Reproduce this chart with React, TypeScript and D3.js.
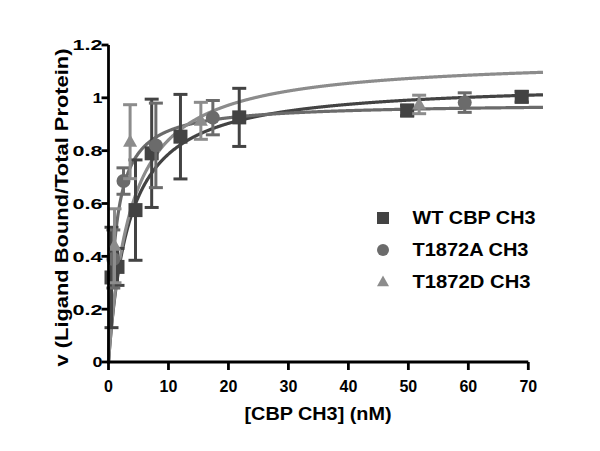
import * as d3 from "d3";

type Point = { x: number; y: number; err: number };
type Series = {
  name: string;
  shape: "square" | "circle" | "triangle";
  color: string;
  bmax: number;
  kd: number;
  points: Point[];
};

// readings: concentration (nM), v, error
const WT_X = [0.5, 1.5, 4.5, 7.2, 12, 21.8, 49.8, 68.9];
const WT_Y = [0.32, 0.36, 0.575, 0.79, 0.853, 0.926, 0.952, 1.004];
const WT_ERR = [0.19, 0.07, 0.19, 0.205, 0.16, 0.11, 0.02, 0.02];

const A_X = [0.8, 2.5, 7.9, 17.4, 59.4];
const A_Y = [0.39, 0.685, 0.82, 0.925, 0.982];
const A_ERR = [0.11, 0.05, 0.16, 0.065, 0.037];

const D_X = [1.0, 3.6, 15.4, 51.8];
const D_Y = [0.44, 0.834, 0.913, 0.975];
const D_ERR = [0.14, 0.14, 0.07, 0.035];

// one-site binding fits: v = Bmax * x / (Kd + x)
const FIT_BMAX = [1.06, 0.98, 1.153];
const FIT_KD = [3.47, 1.2, 3.72];

const X_TICKS = [0, 10, 20, 30, 40, 50, 60, 70];
const Y_TICKS = [0, 0.2, 0.4, 0.6, 0.8, 1, 1.2];

const zip = (xs: number[], ys: number[], es: number[]): Point[] =>
  xs.map((x, i) => ({ x, y: ys[i], err: es[i] }));

const SERIES: Series[] = [
  { name: "WT CBP CH3", shape: "square", color: "#434343", bmax: FIT_BMAX[0], kd: FIT_KD[0], points: zip(WT_X, WT_Y, WT_ERR) },
  { name: "T1872A CH3", shape: "circle", color: "#6b6b6b", bmax: FIT_BMAX[1], kd: FIT_KD[1], points: zip(A_X, A_Y, A_ERR) },
  { name: "T1872D CH3", shape: "triangle", color: "#8c8c8c", bmax: FIT_BMAX[2], kd: FIT_KD[2], points: zip(D_X, D_Y, D_ERR) },
];
const LEGEND_WIDTHS = [123, 116, 118];

const WIDTH = 600;
const HEIGHT = 451;
const FONT = "'Liberation Sans', Arial, sans-serif";

const xScale = d3.scaleLinear().domain([0, 70]).range([108.5, 528.3]);
const yScale = d3.scaleLinear().domain([0, 1.2]).range([362, 45]);

const marker = (shape: Series["shape"], cx: number, cy: number, size: number, color: string, key?: string) => {
  if (shape === "square") {
    return <rect key={key} x={cx - size / 2} y={cy - size / 2} width={size} height={size} fill={color} />;
  }
  if (shape === "circle") {
    return <circle key={key} cx={cx} cy={cy} r={size / 2} fill={color} />;
  }
  const h = size * 0.9;
  return (
    <path
      key={key}
      d={`M${cx},${cy - h * 0.6}L${cx + size / 2},${cy + h * 0.4}L${cx - size / 2},${cy + h * 0.4}Z`}
      fill={color}
    />
  );
};

const curvePath = (s: Series) => {
  const xs = d3.range(0, 72.5, 0.05);
  const line = d3
    .line<number>()
    .x((x) => xScale(x))
    .y((x) => yScale((s.bmax * x) / (s.kd + x)));
  return line(xs) ?? "";
};

const App = () => {
  const [y0, y1] = yScale.range();
  const [x0, x1] = xScale.range();
  const legendX = 383;
  const legendY = [218, 250, 282];

  return (
    <svg
      width={WIDTH}
      height={HEIGHT}
      style={{ position: "absolute", left: 0, top: 0, background: "white" }}
      fontFamily={FONT}
    >
      <rect width={WIDTH} height={HEIGHT} fill="white" />

      {/* fitted curves */}
      {SERIES.map((s) => (
        <path key={s.name} d={curvePath(s)} fill="none" stroke={s.color} strokeWidth={3.2} />
      ))}

      {/* error bars and points */}
      {SERIES.map((s) => (
        <g key={s.name}>
          {s.points.map((p, i) => {
            const cx = xScale(p.x);
            const top = yScale(p.y + p.err);
            const bot = yScale(Math.max(0, p.y - p.err));
            return (
              <g key={i} stroke={s.color} strokeWidth={3}>
                <line x1={cx} x2={cx} y1={top} y2={bot} />
                <line x1={cx - 7} x2={cx + 7} y1={top} y2={top} />
                <line x1={cx - 7} x2={cx + 7} y1={bot} y2={bot} />
              </g>
            );
          })}
          {s.points.map((p, i) => marker(s.shape, xScale(p.x), yScale(p.y), 14, s.color, `m${i}`))}
        </g>
      ))}

      {/* axes */}
      <g stroke="black" strokeWidth={2.8}>
        <line x1={x0 - 1.4} x2={x1} y1={y0} y2={y0} />
        <line x1={x0} x2={x0} y1={y0 + 1.4} y2={y1} />
        {X_TICKS.map((t) => (
          <line key={t} x1={xScale(t)} x2={xScale(t)} y1={y0} y2={y0 + 8} />
        ))}
        {Y_TICKS.map((t) => (
          <line key={t} x1={x0 - 7} x2={x0} y1={yScale(t)} y2={yScale(t)} />
        ))}
      </g>
      <g fontSize={16} fontWeight="bold" fill="black">
        {X_TICKS.map((t) => (
          <text key={t} x={xScale(t)} y={y0 + 30} textAnchor="middle">
            {t}
          </text>
        ))}
      </g>
      <g fontSize={15} fontWeight="bold" fill="black">
        {Y_TICKS.map((t) => {
          const label = String(t);
          const w = label.length === 1 ? 10 : 30;
          return (
            <text
              key={t}
              x={x0 - 6}
              y={yScale(t)}
              dy="0.36em"
              textAnchor="end"
              textLength={w}
              lengthAdjust="spacingAndGlyphs"
            >
              {label}
            </text>
          );
        })}
      </g>

      <text
        x={318}
        y={420}
        textAnchor="middle"
        fontSize={19}
        fontWeight="bold"
        textLength={147}
        lengthAdjust="spacingAndGlyphs"
      >
        [CBP CH3] (nM)
      </text>
      <text
        transform={`translate(68,207.5) rotate(-90)`}
        textAnchor="middle"
        fontSize={19}
        fontWeight="bold"
        textLength={318}
        lengthAdjust="spacingAndGlyphs"
      >
        v (Ligand Bound/Total Protein)
      </text>

      {/* legend */}
      {SERIES.map((s, i) => (
        <g key={s.name}>
          {marker(s.shape, legendX, legendY[i], 12, s.color)}
          <text
            x={412.5}
            y={legendY[i]}
            dy="0.36em"
            fontSize={18}
            fontWeight="bold"
            textLength={LEGEND_WIDTHS[i]}
            lengthAdjust="spacingAndGlyphs"
          >
            {s.name}
          </text>
        </g>
      ))}
    </svg>
  );
};

export default App;
